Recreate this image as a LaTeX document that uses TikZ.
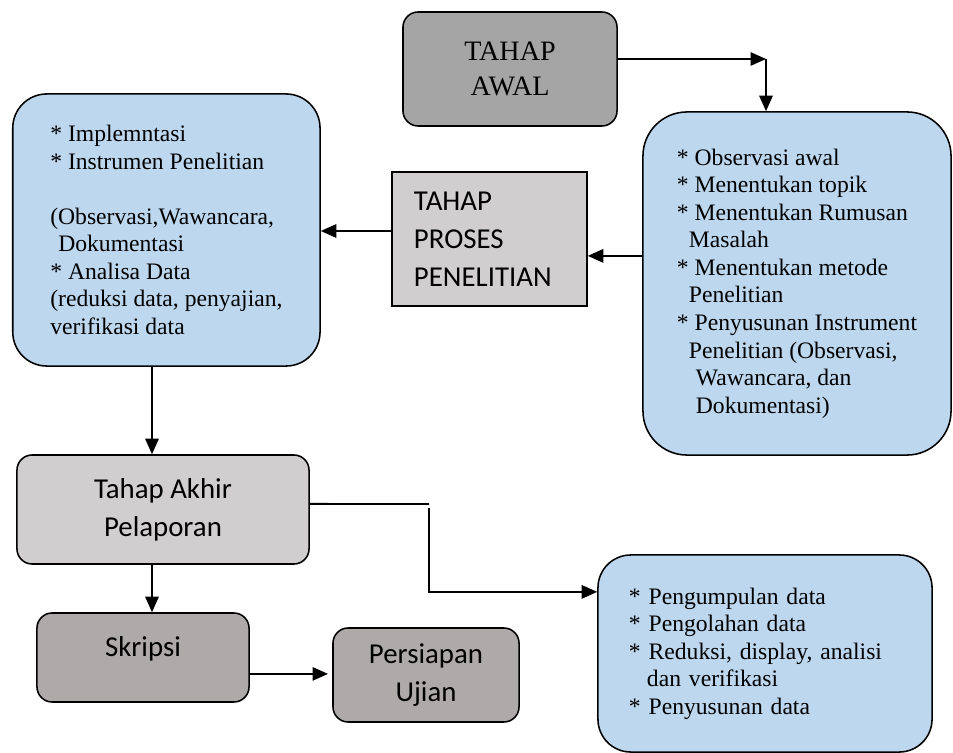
\documentclass[tikz,border=0pt]{standalone}
\usepackage{fontspec}
\setmainfont{Liberation Serif}
\setsansfont{Carlito}
\usepackage{tikz}
\usetikzlibrary{arrows.meta,positioning,calc}
\usepackage{xcolor}
\definecolor{langit}{HTML}{BDD7EE}
\definecolor{batu}{HTML}{A5A5A5}
\definecolor{abu}{HTML}{AEAAAA}
\definecolor{kabut}{HTML}{D0CECE}
\newcommand\fsisi{\fontsize{16.8}{19.6}\selectfont}
\newcommand\fsjudul{\fontsize{20}{24.9}\selectfont}
\newcommand\fssans{\sffamily\fontsize{20.5}{27}\selectfont}

\begin{document}
\begin{tikzpicture}[x=0.025cm,y=-0.025cm,
   daftar/.style={draw,line width=1.1pt,fill=langit,rounded corners=0.85cm,align=left,font=\fsisi,inner sep=0pt},
   kotak/.style={draw,line width=1.1pt,rounded corners=0.38cm,align=center,inner sep=0pt},
   panah/.style={-{Triangle[length=11pt,width=9.5pt]},line width=1.3pt}]
  \useasboundingbox (0,0) rectangle (953,753);
  \node[kotak,fill=batu,font=\fsjudul,minimum width=5.35cm,minimum height=2.85cm] (awal) at (510,69) {TAHAP\\AWAL};
  \node[daftar,rounded corners=1.1cm,minimum width=7.7cm,minimum height=8.575cm] (kanan) at (797,283.5) {
     {*} Observasi awal\\
     {*} Menentukan topik\\
     {*} Menentukan Rumusan\\
     \hspace*{8.5pt}Masalah\\
     {*} Menentukan metode\\
     \hspace*{8.5pt}Penelitian\\
     {*} Penyusunan Instrument\\
     \hspace*{8.5pt}Penelitian (Observasi,\\
     \hspace*{13.5pt}Wawancara, dan\\
     \hspace*{13.5pt}Dokumentasi)};
  \node[draw,line width=1.1pt,fill=kabut,font=\fssans,align=left,inner xsep=0.55cm,text width=3.775cm,minimum height=3.35cm] (proses) at (489.5,239) {TAHAP\\PROSES\\PENELITIAN};
  \node[daftar,minimum width=7.68cm,minimum height=6.8cm] (kiri) at (166.4,230) {
     {*} Implemntasi\\
     {*} Instrumen Penelitian\\[19.6pt]
     (Observasi,Wawancara,\\
     \hspace*{5.7pt}Dokumentasi\\
     {*} Analisa Data\\
     (reduksi data, penyajian,\\
     verifikasi data};
  \node[kotak,fill=kabut,font=\fssans,minimum width=7.3cm,minimum height=2.725cm] (akhir) at (163,509.5) {Tahap Akhir\\Pelaporan};
  \node[daftar,rounded corners=0.82cm,inner xsep=0.775cm,text width=6.8cm,minimum height=4.925cm] (bawah) at (765,653.5) {
     {*} Pengumpulan data\\
     {*} Pengolahan data\\
     {*} Reduksi, display, analisi\\
     \hspace*{12.8pt}dan verifikasi\\
     {*} Penyusunan data};
  \node[kotak,fill=abu,font=\fssans,minimum width=5.3cm,minimum height=2.225cm] (skripsi) at (143,657.5) {Skripsi\\[-20pt]\strut};
  \node[kotak,fill=abu,font=\fssans,minimum width=4.65cm,minimum height=2.35cm] (ujian) at (426,675) {Persiapan\\Ujian};
  \coordinate (siku) at (766,59);
  \coordinate (belok) at (429,504);
  \draw[panah] ([yshift=.25cm]awal.east) -- (siku);
  \draw[panah] (siku) -- (siku |- kanan.north);
  \draw[panah] ([yshift=.69cm]kanan.west) coordinate (k1) -- (k1 -| proses.east);
  \draw[panah] ([yshift=.2cm]proses.west) coordinate (p1) -- (p1 -| kiri.east);
  \draw[panah] ([xshift=-.36cm]kiri.south) coordinate (k2) -- (k2 |- akhir.north);
  \draw[panah] ([xshift=-.275cm]akhir.south) coordinate (a1) -- (a1 |- skripsi.north);
  \draw[panah,shorten >=3pt] ([yshift=-.41cm]skripsi.east) coordinate (s1) -- (s1 -| ujian.west);
  \draw[line width=1.3pt] ([yshift=.14cm]akhir.east) -- (belok);
  \draw[panah] ([yshift=-.1cm]belok) |- ([yshift=1.54cm]bawah.west);
\end{tikzpicture}
\end{document}
